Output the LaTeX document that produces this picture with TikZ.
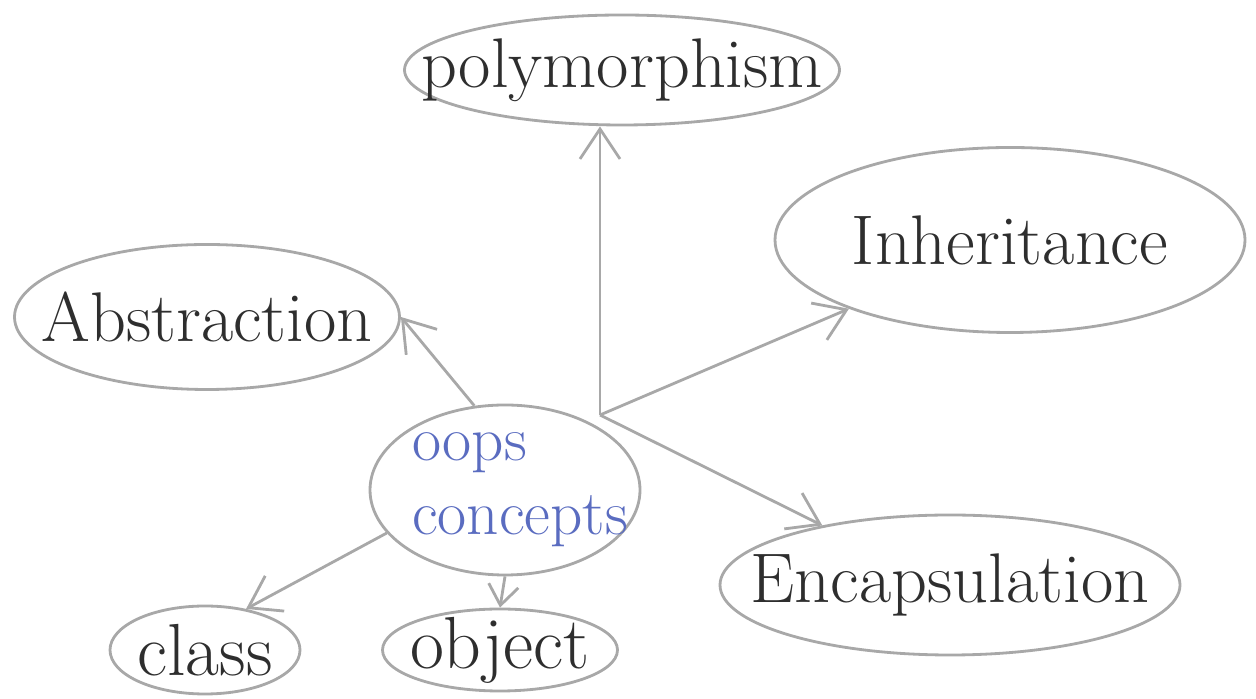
\documentclass[tikz,border=0pt]{standalone}
\usetikzlibrary{shapes.geometric,arrows.meta}

\definecolor{pencil}{HTML}{A8A8A8}
\definecolor{ink}{HTML}{2E2E2E}
\definecolor{blueink}{HTML}{5A6CC0}

\begin{document}
\begin{tikzpicture}[
every node/.style={
draw=pencil,
line width=0.8pt,
ellipse,
inner xsep=-1.5cm,
inner ysep=-0.6cm,
align=center,
text=ink
},
every path/.style={line width=0.8pt},
bigtext/.style={font=\fontsize{20}{24}\selectfont},
smalltext/.style={font=\fontsize{21}{25}\selectfont},
barb/.style={pencil, -{Straight Barb[length=3mm,width=4mm]}}
]

\useasboundingbox (0,0) rectangle (12.56,6.99);

\node[bigtext, minimum width=4.35cm, minimum height=1.1cm] (P) at (6.22,6.29)
{polymorphism};

\node[bigtext, minimum width=4.7cm, minimum height=1.85cm] (I) at (10.1,4.59)
{Inheritance};

\node[bigtext, minimum width=3.85cm, minimum height=1.45cm] (A) at (2.07,3.82)
{Abstraction};

\node[font=\fontsize{18}{21}\selectfont, align=left, minimum width=2.7cm,
minimum height=1.7cm, text=blueink] (O) at (5.05,2.09)
{\hspace*{0.3cm}oops\\\hspace*{0.3cm}concepts};

\node[bigtext, minimum width=4.6cm, minimum height=1.4cm] (E) at (9.5,1.14)
{Encapsulation};

\node[smalltext, minimum width=1.9cm, minimum height=0.88cm] (C) at (2.05,0.49)
{class};

\node[smalltext, minimum width=2.35cm, minimum height=0.82cm] (Ob) at (5.0,0.49)
{object};

\coordinate (h) at (6.0,2.84);

\draw[barb] (h) -- (h |- P.south);
\draw[barb] (h) -- (I);
\draw[barb] (h) -- (E.155);
\draw[barb] (O.110) -- (A.east);
\draw[barb] (O.200) -- (C.45);
\draw[pencil, -{Straight Barb[length=2mm,width=3mm]}] (O.south) -- (Ob.north);

\end{tikzpicture}
\end{document}
